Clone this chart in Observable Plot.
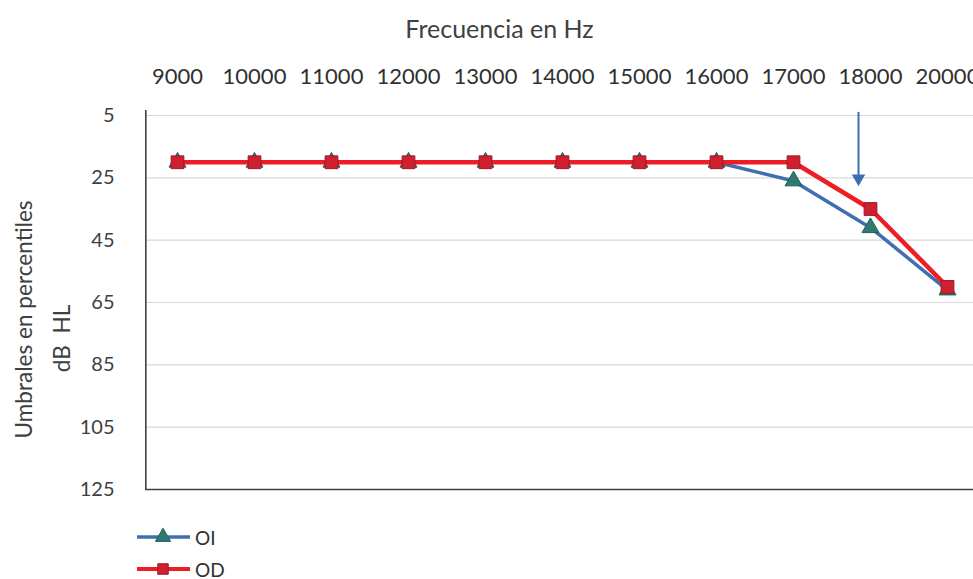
<!DOCTYPE html>
<html>
<head>
<meta charset="utf-8">
<script src="https://cdn.jsdelivr.net/npm/d3@7"></script>
<script src="https://cdn.jsdelivr.net/npm/@observablehq/plot@0.6"></script>
<style>
  body { margin: 0; background: #fff; font-family: Lato, "Open Sans", sans-serif; }
  #wrap { position: relative; width: 973px; height: 579px; overflow: hidden; }
  #legend { position: absolute; left: 135px; top: 521px; color: #303030; font-size: 19px; }
  .item { display: flex; align-items: center; height: 32px; }
  .item svg { margin-right: 3px; }
</style>
</head>
<body>
<div id="wrap"><div id="chart"></div><div id="legend"></div></div>
<script>
const freqs = ["9000","10000","11000","12000","13000","14000","15000","16000","17000","18000","20000"];
const oi = [20,20,20,20,20,20,20,20,26,41,61];
const od = [20,20,20,20,20,20,20,20,20,35,60];
const yTicks = [5,25,45,65,85,105,125];
const seriesNames = ["OI","OD"];
const arrowFreq = ["18000"];
const arrowFrom = [4];
const arrowTo = [25.2];

const rowsOI = freqs.map((f,i) => ({freq:f, value:oi[i]}));
const rowsOD = freqs.map((f,i) => ({freq:f, value:od[i]}));
const arrow = arrowFreq.map((f,i) => ({freq:f, y1:arrowFrom[i], y2:arrowTo[i]}));

const colors = {
  OI: {line:"#3F6FB0", fill:"#2E7A73", stroke:"#235f59"},
  OD: {line:"#EE1C24", fill:"#D01F2E", stroke:"#9b1a2a"}
};

const chart = Plot.plot({
  width: 973, height: 500,
  marginLeft: 145, marginRight: 0, marginTop: 115, marginBottom: 11,
  style: {fontFamily: "Lato, sans-serif", background: "white", color: "#404040", overflow: "visible"},
  x: {type: "point", domain: freqs, range: [176.7, 946.7], padding: 0, axis: null},
  y: {domain: [5,125], reverse: true, axis: null},
  marks: [
    Plot.gridY(yTicks, {stroke: "#d9d9d9", strokeOpacity: 1, strokeWidth: 1.2}),
    Plot.ruleY([125], {stroke: "#404040", strokeWidth: 1.6}),
    Plot.ruleX([freqs[0]], {x: d => d, y1: 3.4, y2: 125, dx: -31.7, stroke: "#404040", strokeWidth: 1.6}),
    Plot.axisY(yTicks, {tickSize: 0, tickPadding: 31, fontSize: 20, fill: "#404040", label: null}),
    Plot.axisX(freqs, {anchor: "top", tickSize: 0, tickPadding: 32, fontSize: 22, fill: "#303030", label: null}),
    Plot.text(["Frecuencia en Hz"], {frameAnchor: "top", dx: -60, dy: -95, fontSize: 25, fill: "#404040"}),
    Plot.text(["Umbrales en percentiles"], {frameAnchor: "left", textAnchor: "middle", rotate: -90, dx: -121, dy: 17, fontSize: 22.6, fill: "#404040"}),
    Plot.text(["dB  HL"], {frameAnchor: "left", textAnchor: "middle", rotate: -90, dx: -83, dy: 36, fontSize: 22.6, fill: "#404040"}),
    Plot.ruleX(arrow, {x: "freq", y1: "y1", y2: "y2", dx: -12, stroke: "#3F6FB0", strokeWidth: 2}),
    Plot.dot(arrow, {x: "freq", y: "y2", dx: -12, symbol: "triangle", rotate: 180, r: 5, fill: "#3F6FB0", stroke: "none"}),
    Plot.line(rowsOI, {x: "freq", y: "value", stroke: colors.OI.line, strokeWidth: 3.5}),
    Plot.dot(rowsOI, {x: "freq", y: "value", symbol: "triangle", r: 6.3, fill: colors.OI.fill, stroke: colors.OI.stroke, strokeWidth: 1}),
    Plot.line(rowsOD, {x: "freq", y: "value", stroke: colors.OD.line, strokeWidth: 4.5}),
    Plot.dot(rowsOD, {x: "freq", y: "value", symbol: "square", r: 7.2, fill: colors.OD.fill, stroke: colors.OD.stroke, strokeWidth: 1})
  ]
});
document.getElementById("chart").appendChild(chart);

const legend = d3.select("#legend");
seriesNames.forEach(name => {
  const c = colors[name];
  const item = legend.append("div").attr("class", "item");
  const svg = item.append("svg").attr("width", 57).attr("height", 20);
  svg.append("line").attr("x1", 2).attr("x2", 55).attr("y1", 10).attr("y2", 10)
    .attr("stroke", c.line).attr("stroke-width", name === "OD" ? 4 : 3.5);
  const sym = name === "OI" ? d3.symbolTriangle : d3.symbolSquare;
  svg.append("path").attr("d", d3.symbol(sym, name === "OI" ? 100 : 110)())
    .attr("transform", "translate(28,10)").attr("fill", c.fill).attr("stroke", c.stroke);
  item.append("span").text(name);
});
</script>
</body>
</html>
